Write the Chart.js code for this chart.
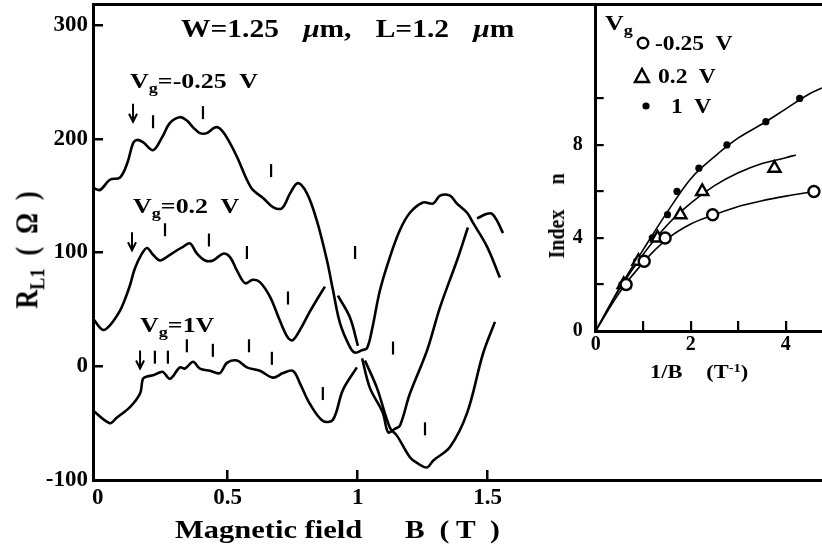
<!DOCTYPE html>
<html>
<head>
<meta charset="utf-8">
<script src="https://cdn.jsdelivr.net/npm/chart.js@4.4.0/dist/chart.umd.min.js"></script>
<style>
  html, body { margin: 0; padding: 0; background: #fff; }
  #wrap { position: relative; width: 822px; height: 548px; overflow: hidden;
          font-family: "Liberation Serif", "DejaVu Serif", serif; font-weight: bold; color: #000; }
  #mainBox { position: absolute; left: 0; top: 0; width: 822px; height: 548px; }
  #insetBox { position: absolute; left: 500px; top: 0; width: 322px; height: 400px; }
  .lbl { position: absolute; white-space: pre; line-height: 1; transform-origin: 0 0; transform: scaleX(1.18); }
  .rot { position: absolute; white-space: pre; line-height: 1; transform: translate(-50%, -50%) rotate(-90deg) scaleY(1.18); }
  sub { font-size: 70%; vertical-align: -0.3em; line-height: 0; }
  sup { font-size: 65%; vertical-align: 0.45em; line-height: 0; }
  .mk { position: absolute; }
</style>
</head>
<body>
<div id="wrap">
  <div id="mainBox"><canvas id="mainChart" width="822" height="548"></canvas></div>
  <div id="insetBox"><canvas id="insetChart" width="322" height="400"></canvas></div>

  <div class="lbl" style="left:181px; top:16px; font-size:25px; word-spacing:4px;">W=1.25  <i>μ</i>m,  L=1.2  <i>μ</i>m</div>
  <div class="lbl" style="left:130px; top:70px; font-size:22px;">V<sub>g</sub>=-0.25  V</div>
  <div class="lbl" style="left:133px; top:195px; font-size:22px;">V<sub>g</sub>=0.2  V</div>
  <div class="lbl" style="left:140px; top:314px; font-size:22px;">V<sub>g</sub>=1V</div>

  <div class="rot" style="left:28px; top:250px; font-size:26px;">R<sub>L1</sub>  (  Ω  )</div>
  <div class="lbl" style="left:175px; top:517px; font-size:25px; transform:scaleX(1.22);">Magnetic field</div>
  <div class="lbl" style="left:405px; top:517px; font-size:25px;">B  ( T  )</div>

  <div class="rot" style="left:556px; top:216px; font-size:20px;">Index     n</div>
  <div class="lbl" style="left:650px; top:362px; font-size:19px; word-spacing:2px;">1/B   (T<sup>-1</sup>)</div>

  <div class="lbl" style="left:605px; top:12px; font-size:22px;">V<sub>g</sub></div>
  <svg class="mk" style="left:636px; top:36px;" width="14" height="14"><circle cx="7" cy="7" r="5.2" fill="#fff" stroke="#000" stroke-width="2.4"/></svg>
  <div class="lbl" style="left:655px; top:33px; font-size:20px;">-0.25  V</div>
  <svg class="mk" style="left:633px; top:67px;" width="18" height="17"><polygon points="9,2 16,15 2,15" fill="#fff" stroke="#000" stroke-width="2.4"/></svg>
  <div class="lbl" style="left:658px; top:66px; font-size:20px;">0.2  V</div>
  <svg class="mk" style="left:641px; top:101px;" width="10" height="10"><circle cx="5" cy="5" r="3.6" fill="#000"/></svg>
  <div class="lbl" style="left:671px; top:96px; font-size:20px;">1  V</div>
</div>

<script>
// R_L1 vs B traces (B in T, R in ohm); null = pen gap
const bVgM025 = [-0.018, 0.009, 0.047, 0.086, 0.113, 0.136, 0.151, 0.174, 0.213, 0.247, 0.278, 0.316, 0.343, 0.367, 0.393, 0.420, 0.451, 0.470, 0.497, 0.536, 0.574, 0.597, 0.636, 0.674, 0.709, 0.740, 0.770, 0.805, 0.843, 0.882, 0.905, 0.932, 0.970, 0.989, 1.016, 1.036, 1.055, 1.086, 1.124, 1.163, 1.201, 1.251, 1.290, 1.317, 1.355, 1.382, 1.421, 1.444, 1.498, 1.547];
const rVgM025 = [157, 155, 164, 166, 178, 196, 199, 197, 190, 201, 214, 219, 216, 210, 205, 205, 210, 209, 201, 184, 164, 155, 148, 140, 139, 152, 161, 152, 128, 93, 67, 38, 17, 12, 14, 16, 32, 67, 96, 120, 135, 144, 143, 150, 150, 143, 135, 126, 105, 78];

const bVg02 = [-0.018, 0.020, 0.047, 0.086, 0.105, 0.124, 0.143, 0.170, 0.190, 0.213, 0.240, 0.278, 0.305, 0.328, 0.355, 0.382, 0.413, 0.444, 0.482, 0.509, 0.536, 0.567, 0.597, 0.624, 0.663, 0.701, 0.732, 0.751, 0.778, 0.816, 0.847, 0.874, 0.900, 0.924, 0.970, 1.001, 1.009, 1.017, 1.047, 1.097, 1.117, 1.143, 1.163, 1.201, 1.267, 1.317, 1.382, 1.424, 1.440, 1.459, 1.498, 1.517, 1.536, 1.559];
const rVg02 = [42, 32, 36, 49, 59, 71, 86, 99, 104, 98, 93, 98, 102, 105, 108, 99, 93, 93, 99, 96, 84, 73, 76, 74, 61, 40, 25, 23, 32, 48, 60, 70, null, 62, 43, 18, null, 7, -19, -41, -58, -55, -52, -24, 14, 52, 93, 122, null, 130, 134, 134, 128, 117];

const bVg1 = [-0.018, 0.047, 0.074, 0.124, 0.163, 0.174, 0.190, 0.213, 0.233, 0.251, 0.278, 0.316, 0.336, 0.367, 0.393, 0.432, 0.470, 0.497, 0.536, 0.574, 0.624, 0.674, 0.713, 0.751, 0.778, 0.816, 0.866, 0.905, 0.943, 0.997, 1.012, 1.028, 1.074, 1.124, 1.151, 1.201, 1.228, 1.267, 1.290, 1.355, 1.421, 1.482, 1.528];
const rVg1 = [-39, -50, -45, -36, -24, -11, -9, -8, -6, -5, -11, -1, -2, 4, -2, -4, -6, 3, 5, -1, -4, -10, -6, -4, -15, -33, -48, -47, -21, -1, null, 5, -19, -54, -61, -80, -85, -89, -83, -71, -41, 11, 39];

// short vertical markers and arrows drawn on the traces
const markB = [0.213, 0.405, 0.667, 0.259, 0.428, 0.574, 0.732, 0.990, 0.220, 0.270, 0.343, 0.443, 0.582, 0.670, 0.866, 1.136, 1.259];
const markR = [215, 223, 172, 120, 111, 100, 60, 100, 8, 8, 18, 14, 18, 7, -24, 16, -55];
const arrowB = [0.136, 0.132, 0.163];
const arrowR = [215, 102, -2];

const bTicks = [0, 0.5, 1, 1.5];
const rTicks = [-100, 0, 100, 200, 300];

// inset: index n vs 1/B
const invBM025 = [0.64, 1.02, 1.46, 2.46, 4.59];
const nM025 = [2, 3, 4, 5, 6];
const invB02 = [0.59, 0.90, 1.30, 1.78, 2.24, 3.76];
const n02 = [2, 3, 4, 5, 6, 7];
const invB1 = [0.55, 0.86, 1.19, 1.51, 1.71, 2.17, 2.76, 3.58, 4.29];
const n1 = [2, 3, 4, 5, 6, 7, 8, 9, 10];

const fitXM025 = [0, 0.5, 1.0, 1.5, 2.0, 2.5, 3.0, 3.5, 4.0, 4.59];
const fitNM025 = [0, 1.65, 2.95, 3.95, 4.6, 5.0, 5.35, 5.6, 5.8, 6.0];
const fitX02 = [0, 0.5, 1.0, 1.5, 2.0, 2.5, 3.0, 3.5, 4.0, 4.21];
const fitN02 = [0, 1.8, 3.3, 4.55, 5.5, 6.25, 6.8, 7.2, 7.45, 7.57];
const fitX1 = [0, 0.5, 1.0, 1.5, 2.0, 2.5, 3.0, 3.5, 4.0, 4.5, 4.76];
const fitN1 = [0, 1.85, 3.5, 5.1, 6.55, 7.5, 8.3, 8.9, 9.55, 10.2, 10.45];

const invTicks = [0, 1, 2, 3, 4];
const invLabels = [0, 2, 4];
const nTicks = [0, 2, 4, 6, 8, 10];
const nLabels = [0, 4, 8];

const pts = (xs, ys) => xs.map((x, i) => ({ x: x, y: ys[i] }));
const tickFont = { family: 'Liberation Serif', weight: 'bold', size: 23 };

// fixed axis box sizes, no extra label padding
function fixSize(prop, size) {
  return s => {
    s[prop] = size;
    s.paddingTop = 0; s.paddingBottom = 0; s.paddingLeft = 0; s.paddingRight = 0;
  };
}

const arrows = {
  id: 'arrows',
  afterDatasetsDraw(chart) {
    const { ctx, scales: { x, y } } = chart;
    ctx.save();
    ctx.strokeStyle = '#000';
    ctx.lineWidth = 2;
    arrowB.forEach((b, i) => {
      const px = x.getPixelForValue(b);
      const py = y.getPixelForValue(arrowR[i]);
      ctx.beginPath();
      ctx.moveTo(px, py - 18);
      ctx.lineTo(px, py - 1);
      ctx.moveTo(px - 4, py - 8);
      ctx.lineTo(px, py);
      ctx.lineTo(px + 4, py - 8);
      ctx.stroke();
    });
    ctx.restore();
  }
};

const traceStyle = {
  type: 'line', borderColor: '#000', borderWidth: 2.6, pointRadius: 0,
  tension: 0.35, spanGaps: false, fill: false
};

new Chart(document.getElementById('mainChart'), {
  type: 'line',
  data: {
    datasets: [
      { label: 'marks', type: 'scatter', data: pts(markB, markR), pointStyle: 'line',
        rotation: 90, radius: 6.5, borderWidth: 2.2, borderColor: '#000', showLine: false },
      { label: 'Vg=-0.25 V', data: pts(bVgM025, rVgM025), ...traceStyle },
      { label: 'Vg=0.2 V', data: pts(bVg02, rVg02), ...traceStyle },
      { label: 'Vg=1 V', data: pts(bVg1, rVg1), ...traceStyle }
    ]
  },
  options: {
    responsive: false,
    animation: false,
    events: [],
    layout: { padding: 0, autoPadding: false },
    plugins: { legend: { display: false }, tooltip: { enabled: false } },
    scales: {
      x: {
        type: 'linear', position: 'bottom', min: -0.018, max: 2.786,
        afterBuildTicks: s => { s.ticks = bTicks.map(v => ({ value: v })); },
        afterFit: fixSize('height', 68),
        grid: { drawOnChartArea: false, drawTicks: true, tickLength: -10, lineWidth: 2.5,
                color: c => (c.tick && c.tick.value === 0) ? 'rgba(0,0,0,0)' : '#000' },
        border: { display: true, color: '#000', width: 3 },
        ticks: { color: '#000', font: tickFont, padding: 14, maxRotation: 0, callback: v => String(v) }
      },
      xTop: {
        type: 'linear', position: 'top', min: -0.018, max: 2.786,
        afterFit: fixSize('height', 4),
        grid: { display: false },
        border: { display: true, color: '#000', width: 3 },
        ticks: { display: false }
      },
      y: {
        type: 'linear', position: 'left', min: -100, max: 318.5,
        afterBuildTicks: s => { s.ticks = rTicks.map(v => ({ value: v })); },
        afterFit: fixSize('width', 93),
        grid: { drawOnChartArea: false, drawTicks: true, tickLength: -10, color: '#000', lineWidth: 2.5 },
        border: { display: true, color: '#000', width: 3 },
        ticks: { color: '#000', font: tickFont, padding: 15, callback: v => String(v) }
      }
    }
  },
  plugins: [arrows]
});

const insetFont = { family: 'Liberation Serif', weight: 'bold', size: 20 };
const fitStyle = {
  type: 'line', borderColor: '#000', borderWidth: 1.6, pointRadius: 0,
  cubicInterpolationMode: 'monotone', fill: false
};

new Chart(document.getElementById('insetChart'), {
  type: 'line',
  data: {
    datasets: [
      { label: '-0.25 V', type: 'scatter', data: pts(invBM025, nM025), pointStyle: 'circle',
        radius: 5.5, borderWidth: 2.4, borderColor: '#000', backgroundColor: '#fff' },
      { label: '0.2 V', type: 'scatter', data: pts(invB02, n02), pointStyle: 'triangle',
        radius: 7, borderWidth: 2.4, borderColor: '#000', backgroundColor: '#fff' },
      { label: '1 V', type: 'scatter', data: pts(invB1, n1), pointStyle: 'circle',
        radius: 3.6, borderWidth: 0, backgroundColor: '#000' },
      { label: 'fit -0.25 V', data: pts(fitXM025, fitNM025), ...fitStyle },
      { label: 'fit 0.2 V', data: pts(fitX02, fitN02), ...fitStyle },
      { label: 'fit 1 V', data: pts(fitX1, fitN1), ...fitStyle }
    ]
  },
  options: {
    responsive: false,
    animation: false,
    events: [],
    layout: { padding: { top: 4, right: 0, left: 0, bottom: 0 }, autoPadding: false },
    plugins: { legend: { display: false }, tooltip: { enabled: false } },
    scales: {
      x: {
        type: 'linear', position: 'bottom', min: 0, max: 4.76,
        afterBuildTicks: s => { s.ticks = invTicks.map(v => ({ value: v })); },
        afterFit: fixSize('height', 69),
        grid: { drawOnChartArea: false, drawTicks: true, tickLength: -10, color: '#000', lineWidth: 2.2 },
        border: { display: true, color: '#000', width: 3 },
        ticks: { color: '#000', font: insetFont, padding: 12, maxRotation: 0,
                 callback: v => invLabels.includes(v) ? String(v) : '' }
      },
      y: {
        type: 'linear', position: 'left', min: 0, max: 14.06,
        afterBuildTicks: s => { s.ticks = nTicks.map(v => ({ value: v })); },
        afterFit: fixSize('width', 95.7),
        grid: { drawOnChartArea: false, drawTicks: true, tickLength: -8, color: '#000', lineWidth: 2.2 },
        border: { display: true, color: '#000', width: 3 },
        ticks: { color: '#000', font: insetFont, padding: 21,
                 callback: v => nLabels.includes(v) ? String(v) : '' }
      }
    }
  }
});
</script>
</body>
</html>
